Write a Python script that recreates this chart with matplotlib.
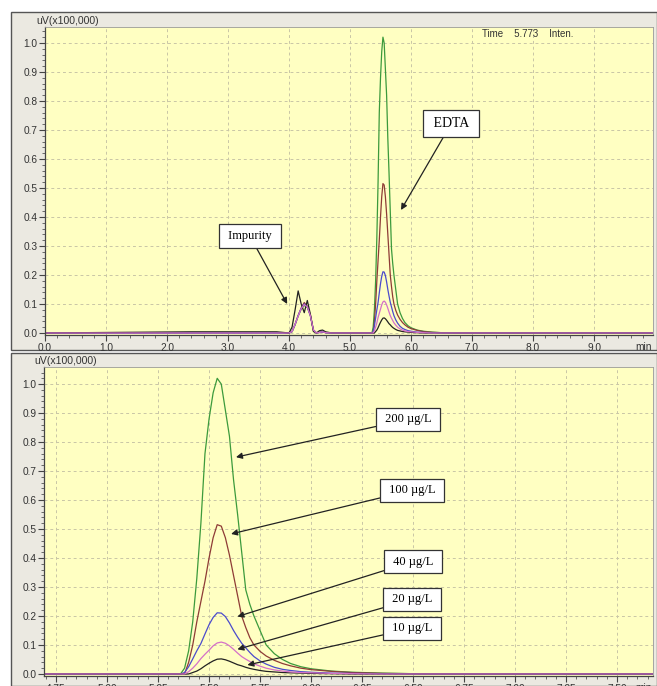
import matplotlib.pyplot as plt
from matplotlib.patches import Rectangle

# chromatogram: retention time (min) and signal (uV x 100,000)
time_min = [0.0, 2.4, 3.8, 4.0, 4.05, 4.1, 4.15, 4.2, 4.25, 4.3, 4.35, 4.4, 4.45, 4.5, 4.55, 4.6, 4.7,
            5.0, 5.3, 5.36, 5.38, 5.40, 5.42, 5.44, 5.46, 5.48, 5.50, 5.52, 5.54, 5.56, 5.58, 5.60,
            5.62, 5.64, 5.66, 5.68, 5.70, 5.72, 5.75, 5.78, 5.82, 5.86, 5.90, 5.95, 6.00, 6.10,
            6.20, 6.35, 6.5, 6.7, 7.0, 10.0]

sig_200 = [0.0, 0.0, 0.0, 0.0, 0.004, 0.028, 0.058, 0.082, 0.095, 0.088, 0.06, 0.01, 0.0, 0.002, 0.004, 0.001, 0.0,
           0.0, 0.0, 0.0, 0.02, 0.08, 0.18, 0.33, 0.52, 0.76, 0.88, 0.97, 1.02, 1.00, 0.91, 0.82,
           0.67, 0.55, 0.42, 0.29, 0.24, 0.20, 0.15, 0.10, 0.07, 0.05, 0.036, 0.025, 0.018, 0.01,
           0.006, 0.003, 0.001, 0.0, 0.0, 0.0]
sig_100 = [0.0, 0.0, 0.0, 0.0, 0.005, 0.03, 0.06, 0.086, 0.105, 0.092, 0.062, 0.01, 0.0, 0.002, 0.004, 0.001, 0.0,
           0.0, 0.0, 0.0, 0.0, 0.04, 0.10, 0.18, 0.25, 0.32, 0.40, 0.47, 0.515, 0.51, 0.47, 0.41,
           0.34, 0.27, 0.20, 0.16, 0.125, 0.10, 0.078, 0.062, 0.047, 0.036, 0.028, 0.02, 0.015, 0.009,
           0.005, 0.002, 0.001, 0.0, 0.0, 0.0]
sig_40 = [0.0, 0.0, 0.0, 0.0, 0.005, 0.03, 0.06, 0.085, 0.10, 0.09, 0.06, 0.01, 0.0, 0.002, 0.004, 0.001, 0.0,
          0.0, 0.0, 0.0, 0.005, 0.025, 0.052, 0.08, 0.105, 0.138, 0.17, 0.195, 0.211, 0.21, 0.198, 0.176,
          0.15, 0.127, 0.106, 0.09, 0.074, 0.06, 0.045, 0.034, 0.023, 0.016, 0.012, 0.008, 0.006, 0.003,
          0.002, 0.001, 0.0, 0.0, 0.0, 0.0]
sig_20 = [0.0, 0.0, 0.0, 0.0, 0.005, 0.03, 0.058, 0.084, 0.098, 0.09, 0.06, 0.01, 0.0, 0.002, 0.004, 0.001, 0.0,
          0.0, 0.0, 0.0, 0.0, 0.008, 0.02, 0.035, 0.053, 0.068, 0.082, 0.097, 0.107, 0.11, 0.106, 0.097,
          0.085, 0.072, 0.06, 0.051, 0.043, 0.035, 0.027, 0.02, 0.014, 0.01, 0.007, 0.005, 0.004, 0.002,
          0.001, 0.0, 0.0, 0.0, 0.0, 0.0]
sig_10 = [0.0, 0.004, 0.004, 0.0, 0.02, 0.08, 0.145, 0.10, 0.07, 0.112, 0.065, 0.005, 0.0, 0.008, 0.01, 0.004, 0.0,
          0.0, 0.0, 0.0, 0.0, 0.0, 0.005, 0.01, 0.018, 0.028, 0.037, 0.045, 0.051, 0.052, 0.049, 0.044,
          0.038, 0.032, 0.028, 0.023, 0.019, 0.016, 0.012, 0.009, 0.007, 0.005, 0.004, 0.003, 0.002, 0.001,
          0.0, 0.0, 0.0, 0.0, 0.0, 0.0]

# draw order and colours of the traces
traces = [(sig_200, '#3c9a3c'), (sig_100, '#8e3b36'), (sig_40, '#4b4bcc'),
          (sig_10, '#222222'), (sig_20, '#d46fc8')]

conc_labels = ['200 µg/L', '100 µg/L', '40 µg/L', '20 µg/L', '10 µg/L']
# arrow tip (time, signal) and label box centre (time, signal) in the zoomed panel
conc_tips = [(5.632, 0.748), (5.608, 0.483), (5.639, 0.198), (5.639, 0.085), (5.688, 0.031)]
conc_boxes = [(6.475, 0.878), (6.495, 0.634), (6.50, 0.388), (6.495, 0.257), (6.495, 0.157)]

W, H = 657, 686
plt.rcParams['font.family'] = ['Liberation Sans', 'DejaVu Sans']
fig = plt.figure(figsize=(W / 100, H / 100), dpi=100)
fig.patch.set_facecolor('white')

panel_grey = '#ebe9e1'
plot_yellow = '#ffffc2'
grid_col = '#c9c6a6'


def px_rect(l, t, r, b):
    return [l / W, 1 - b / H, (r - l) / W, (b - t) / H]


# outer grey frames of the two windows
for (l, t, r, b) in [(11, 12, 657, 350), (11, 353, 657, 686)]:
    x0, y0, w, h = px_rect(l, t, r, b)
    fig.patches.append(Rectangle((x0, y0), w, h, transform=fig.transFigure,
                                 facecolor=panel_grey, edgecolor='#555555', lw=1.0, zorder=-10))


def style_axes(ax, xlim, ylim, xmajor, xminor, xfmt):
    ax.set_zorder(5)
    ax.set_facecolor(plot_yellow)
    for t, c in traces:
        ax.plot(time_min, t, color=c, lw=0.9)
    ax.set_xlim(*xlim)
    ax.set_ylim(*ylim)
    ax.set_xticks(xmajor)
    ax.set_xticklabels([xfmt.format(v) for v in xmajor])
    ax.set_xticks(xminor, minor=True)
    yt = [i / 10 for i in range(11)]
    ax.set_yticks(yt)
    ax.set_yticklabels(['{:.1f}'.format(v) for v in yt])
    ax.set_yticks([i / 50 for i in range(53)], minor=True)
    ax.tick_params(which='major', direction='out', length=4, width=0.8, colors='#444444',
                   labelsize=7.3, labelcolor='#333333', pad=1.5)
    ax.tick_params(which='minor', direction='out', length=2, width=0.6, colors='#555555')
    ax.grid(True, which='major', color=grid_col, ls=(0, (3, 3)), lw=0.7)
    ax.set_axisbelow(True)
    for s in ['left', 'bottom']:
        ax.spines[s].set_color('#444444')
        ax.spines[s].set_linewidth(0.9)
    for s in ['top', 'right']:
        ax.spines[s].set_color('#999999')
        ax.spines[s].set_linewidth(0.6)
    ax.text(-0.015, 1.004, 'uV(x100,000)', transform=ax.transAxes, fontsize=7.6,
            color='#333333', va='bottom', ha='left')


box_kw = dict(boxstyle='square,pad=0.45', fc='white', ec='#333333', lw=0.9)
arrow_kw = dict(arrowstyle='-|>', color='#222222', lw=0.9, mutation_scale=9, shrinkA=0, shrinkB=0)
serif = ['Liberation Serif', 'DejaVu Serif']

# full chromatogram
ax1 = fig.add_axes(px_rect(45, 27, 653, 335))
style_axes(ax1, (0.0, 9.967), (-0.007, 1.055), [float(i) for i in range(10)],
           [i / 5 for i in range(50)], '{:.1f}')
ax1.text(0.998, -0.022, 'min', transform=ax1.transAxes, fontsize=7.3, color='#333333',
         ha='right', va='top')
ax1.text(0.719, 0.993, 'Time    5.773    Inten.', transform=ax1.transAxes, fontsize=7,
         color='#333333', ha='left', va='top')
ax1.annotate(' EDTA ', xy=(5.836, 0.424), xytext=(6.66, 0.722), fontsize=10, family=serif,
             ha='center', va='center', bbox=dict(box_kw, boxstyle='square,pad=0.5'),
             arrowprops=arrow_kw)
ax1.annotate(' Impurity ', xy=(3.97, 0.10), xytext=(3.36, 0.334), fontsize=9, family=serif,
             ha='center', va='center', bbox=box_kw, arrowprops=arrow_kw)

# zoom on the EDTA peak
ax2 = fig.add_axes(px_rect(44, 367, 653, 676))
zx = [4.75 + 0.25 * i for i in range(12)]
style_axes(ax2, (4.691, 7.676), (-0.007, 1.059), zx,
           [4.70 + 0.05 * i for i in range(60)], '{:.2f}')
ax2.text(0.998, -0.022, 'min', transform=ax2.transAxes, fontsize=7.3, color='#333333',
         ha='right', va='top')
for lab, tip, box in zip(conc_labels, conc_tips, conc_boxes):
    ax2.annotate(' ' + lab + ' ', xy=tip, xytext=box, fontsize=9, family=serif,
                 ha='center', va='center', bbox=box_kw, arrowprops=arrow_kw)

fig.savefig('out.png', dpi=100)
